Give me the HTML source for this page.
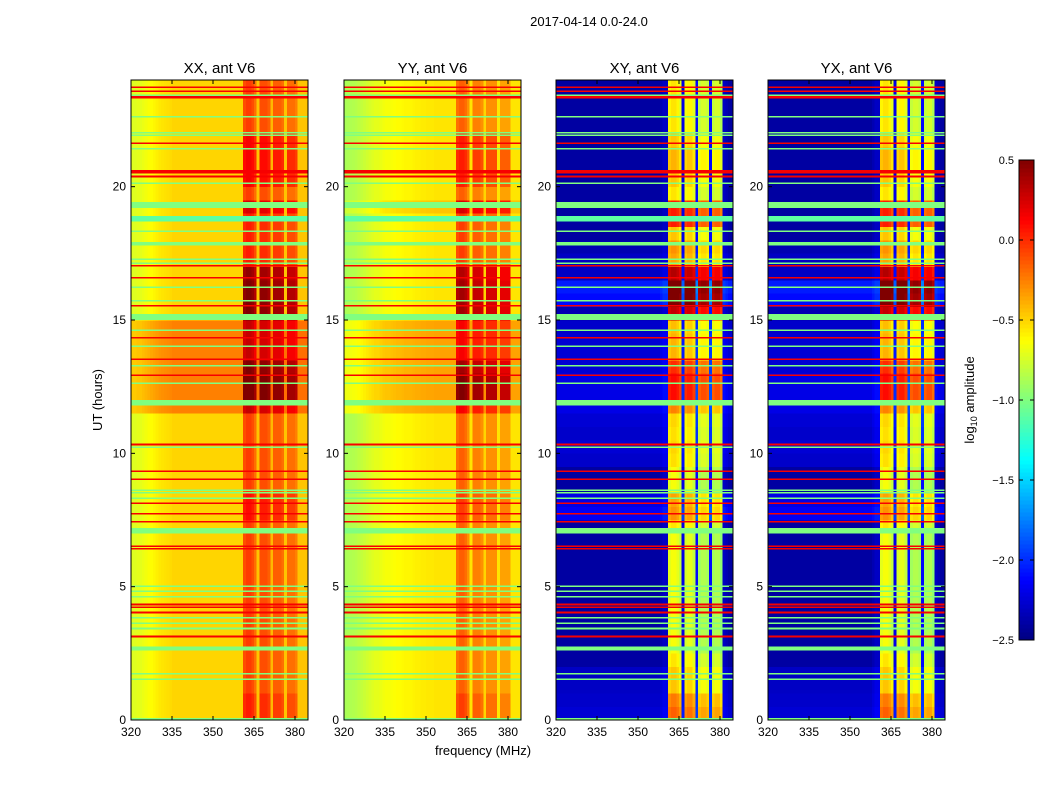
<!DOCTYPE html>
<html><head><meta charset="utf-8"><style>
body{margin:0;background:#fff;}
svg{display:block;font-family:"Liberation Sans",sans-serif;}
</style></head><body>
<svg id="fig" width="1050" height="800" viewBox="0 0 1050 800">
<rect width="1050" height="800" fill="#fff"/>
<text x="589" y="26" font-size="13" text-anchor="middle">2017-04-14 0.0-24.0</text>
<text x="483" y="755" font-size="13" text-anchor="middle">frequency (MHz)</text>
<text transform="translate(102,400) rotate(-90)" font-size="13" text-anchor="middle">UT (hours)</text>
<g id="panels"></g>
<g id="cbar"></g>
<text transform="translate(974,400) rotate(-90)" font-size="13" text-anchor="middle">log<tspan font-size="9" dy="3">10</tspan><tspan dy="-3"> amplitude</tspan></text>
</svg>
<script>
// ---- data ----
const panelTitles = ["XX, ant V6","YY, ant V6","XY, ant V6","YX, ant V6"];
const xTicks = [320,335,350,365,380];
const yTicks = [0,5,10,15,20];
const cbTicks = [0.5,0.0,-0.5,-1.0,-1.5,-2.0,-2.5];
const rfiCols = [361,362,363,364,365,367,368,369,370,372,373,374,375,377,378,379,380];
// frequency profiles, 1 MHz bins 320..384
const freqXX = [-0.72,-0.72,-0.7,-0.7,-0.68,-0.66,-0.64,-0.62,-0.6,-0.58,-0.56,-0.55,-0.54,-0.53,-0.52,
 -0.5,-0.5,-0.5,-0.5,-0.5,-0.5,-0.5,-0.5,-0.5,-0.5,-0.5,-0.5,-0.5,-0.5,-0.5,-0.5,-0.5,-0.5,-0.5,-0.5,-0.5,-0.5,-0.5,-0.5,-0.5,-0.5,
 -0.1,-0.05,-0.05,-0.1,-0.2,-0.45,-0.1,-0.1,-0.1,-0.15,-0.42,-0.15,-0.15,-0.15,-0.2,-0.45,-0.2,-0.2,-0.2,-0.25,-0.45,-0.45,-0.45,-0.45];
const freqYY = [-0.88,-0.87,-0.86,-0.85,-0.84,-0.82,-0.8,-0.78,-0.76,-0.74,-0.72,-0.7,-0.7,-0.68,-0.66,
 -0.65,-0.65,-0.64,-0.63,-0.62,-0.62,-0.61,-0.6,-0.6,-0.6,-0.59,-0.58,-0.58,-0.57,-0.57,-0.56,-0.56,-0.56,-0.55,-0.55,-0.55,-0.55,-0.55,-0.55,-0.55,-0.55,
 -0.2,-0.15,-0.15,-0.2,-0.3,-0.55,-0.25,-0.25,-0.25,-0.3,-0.5,-0.3,-0.3,-0.3,-0.3,-0.55,-0.35,-0.35,-0.35,-0.35,-0.55,-0.55,-0.55,-0.55];
const freqXY = [-2.4,-2.4,-2.4,-2.4,-2.4,-2.4,-2.4,-2.4,-2.4,-2.4,-2.4,-2.4,-2.4,-2.4,-2.4,
 -2.4,-2.4,-2.4,-2.4,-2.4,-2.4,-2.4,-2.4,-2.4,-2.4,-2.4,-2.4,-2.4,-2.4,-2.4,-2.4,-2.4,-2.4,-2.4,-2.4,-2.4,-2.4,-2.4,-2.35,-2.3,-2.3,
 -0.7,-0.65,-0.65,-0.7,-0.8,-2.2,-0.75,-0.7,-0.7,-0.8,-2.1,-0.9,-0.85,-0.85,-0.9,-2.1,-0.9,-0.85,-0.85,-0.95,-2.3,-2.35,-2.4,-2.4];
// time profiles, half-hour bins 0..24
const timeXX = [0,0,0,0,0,0,0,0,0,0,0,0,0,0,0,0,0,0,0,0,0,0,0,0.25,0.25,0.25,0.25,0.25,0.25,0.25,0,0,0,0,0,0,0,0,0,0,0,0,0,0,0,0,0,0];
const rfiXX = [0.1,0.1,0,0,0,0,0,0,0,0,0,0,0,0,0,0.15,0.15,0,0,0,0,0,0,0.1,0.35,0.35,0.3,0.1,0.1,0.1,0.55,0.55,0.55,0.5,0.1,0.1,0.1,0.1,0.3,0,0.2,0.2,0.2,0.2,0,0,0,0];
const timeYY = [0,0,0,0,0,0,0,0,0,0,0,0,0,0,0,0,0,0,0,0,0,0,0,0.2,0.2,0.2,0.2,0.2,0.2,0.2,0,0,0,0,0,0,0,0,0.1,0,0,0,0,0,0,0,0,0];
const rfiYY = [0.1,0.1,0,0,0,0,0,0,0,0,0,0,0,0,0,0.1,0.1,0,0,0,0,0,0,0.1,0.45,0.45,0.35,0.1,0.1,0.1,0.55,0.55,0.55,0.5,0.1,0.1,0.1,0.1,0.3,0,0.2,0.2,0.2,0.2,0,0,0,0];
const timeXY = [0.15,0.12,0.1,0.1,0,0,0,0,0,0,0,0,0,0,0,0.25,0.2,0,0,0.12,0.15,0.12,0.15,0.2,0.2,0.2,0.15,0.15,0.15,0.12,0.05,0.3,0.35,0.1,0.1,0.05,0,0,0,0,0,0,0,0,0,0,0,0];
const rfiXY = [0.35,0.3,0.1,0.1,0.1,0,0,0,0,0,0,0,0,0,0.1,0.1,0.1,0,0,0,0,0,0,0.2,0.55,0.55,0.5,0.1,0.1,0.1,0.9,0.95,0.95,0.9,0.2,0.3,0.2,0.7,0.7,0.1,0.2,0.25,0.25,0.2,0.1,0.1,0.1,0.1];
// flagged rows: start hour, height (hours), value
const flagHours = [0,1.5,1.7,2.6,3.1,3.4,3.6,3.8,4.0,4.2,4.3,4.6,4.8,5.0,6.4,6.5,7.0,7.4,7.7,8.1,8.3,8.5,8.6,9.0,9.3,10.2,10.3,11.8,12.6,12.9,13.27,13.5,14.0,14.3,14.6,15.0,15.5,15.7,16.2,16.55,17.0,17.1,17.25,17.8,18.3,18.7,19.2,20.1,20.35,20.5,21.4,21.6,21.9,22.0,22.6,23.3,23.4,23.55,23.7];
const flagSize  = [0.08,0.06,0.06,0.15,0.06,0.06,0.06,0.06,0.06,0.06,0.06,0.05,0.05,0.05,0.05,0.05,0.2,0.06,0.06,0.06,0.05,0.05,0.05,0.05,0.06,0.05,0.06,0.2,0.05,0.06,0.05,0.06,0.05,0.06,0.05,0.22,0.06,0.05,0.05,0.06,0.06,0.06,0.05,0.12,0.05,0.2,0.22,0.05,0.06,0.12,0.05,0.06,0.05,0.05,0.05,0.1,0.05,0.06,0.05];
const flagVals  = [-1,-1,-1,-1,0.15,-1,-1,-1,0.15,0.15,0.15,-1,-1,-1,0.15,0.15,-1,0.15,0.15,0.15,-1,-1,-1,0.15,0.15,-1,0.15,-1,-1,0.15,-1,0.15,-1,0.15,-1,-1,0.15,-1,-1,0.15,0.15,-1,-1,-1,-1,-1.1,-1,-1,0.15,0.15,-1,0.15,-1,-1,-1,0.15,-1,0.15,0.15];

const panelFreq = [freqXX,freqYY,freqXY,freqXY];
const panelTime = [timeXX,timeYY,timeXY,timeXY];
const panelRfi  = [rfiXX,rfiYY,rfiXY,rfiXY];

// ---- layout ----
const panelX = [131,344,556,768];
const PW = 177, PT = 80, PB = 720;
const F0 = 320, F1 = 320 + PW/(41/15);
const H1 = 24;
const NS = "http://www.w3.org/2000/svg";
function jet(v){
  let t=(v+2.5)/3; t=Math.max(0,Math.min(1,t));
  const c=x=>Math.round(255*Math.max(0,Math.min(1,x)));
  return `rgb(${c(1.5-Math.abs(4*t-3))},${c(1.5-Math.abs(4*t-2))},${c(1.5-Math.abs(4*t-1))})`;
}
function mk(tag,attrs,parent){const e=document.createElementNS(NS,tag);for(const k in attrs)e.setAttribute(k,attrs[k]);parent.appendChild(e);return e;}
const panels=document.getElementById('panels');
panelTitles.forEach((title,p)=>{
  const x0=panelX[p];
  const xs=f=>x0+(f-F0)/(F1-F0)*PW;
  const ys=h=>PB-(h/H1)*(PB-PT);
  const g=mk('g',{'shape-rendering':'crispEdges'},panels);
  
  
  const fr=panelFreq[p], tm=panelTime[p], rf=panelRfi[p];
  for(let i=0;i<fr.length;i++){
    const f=F0+i;
    const isR=rfiCols.indexOf(f)>=0;
    for(let j=0;j<tm.length;j++){
      const h=j*0.5;
      let v=fr[i]+tm[j]+(isR?rf[j]:0);
      const x1=xs(f), x2=Math.min(xs(f+1),x0+PW);
      const r=mk('rect',{x:x1,y:ys(h+0.5),width:x2-x1+0.4,height:ys(h)-ys(h+0.5)+0.4,fill:jet(v)},g);
      
      
    }
  }
  for(let k=0;k<flagHours.length;k++){
    const h=flagHours[k], sz=flagSize[k];
    const r=mk('rect',{x:x0,y:ys(h+sz),width:PW,height:Math.max(1.5,ys(h)-ys(h+sz)),fill:jet(flagVals[k])},g);
    
    
  }
  const fr2=mk('rect',{x:x0,y:PT,width:PW,height:PB-PT,fill:'none',stroke:'#000','stroke-width':1},panels);
  
  
  const t=mk('text',{x:x0+PW/2,y:73,'font-size':15,'text-anchor':'middle'},panels);
  t.textContent=title;
  
  
  xTicks.forEach(v=>{
    const x=xs(v);
    mk('line',{x1:x,x2:x,y1:PB,y2:PB-4,stroke:'#000'},panels);
    mk('line',{x1:x,x2:x,y1:PT,y2:PT+4,stroke:'#000'},panels);
    const l=mk('text',{x:x,y:PB+16,'font-size':12,'text-anchor':'middle'},panels);
    l.textContent=v;
    
    
  });
  yTicks.forEach(v=>{
    const y=ys(v);
    mk('line',{x1:x0,x2:x0+4,y1:y,y2:y,stroke:'#000'},panels);
    mk('line',{x1:x0+PW,x2:x0+PW-4,y1:y,y2:y,stroke:'#000'},panels);
    const l=mk('text',{x:x0-5,y:y+4,'font-size':12,'text-anchor':'end'},panels);
    l.textContent=v;
    
    
  });
});
// colorbar
const cb=document.getElementById('cbar');
const CBX=1019, CBW=15, CBT=160, CBB=640;
for(let i=0;i<120;i++){
  const v=-2.5+3*(i+0.5)/120;
  const y=CBB-(i+1)*(CBB-CBT)/120;
  mk('rect',{x:CBX,y:y,width:CBW,height:(CBB-CBT)/120+0.5,fill:jet(v)},cb);
}
mk('rect',{x:CBX,y:CBT,width:CBW,height:CBB-CBT,fill:'none',stroke:'#000'},cb);
cbTicks.forEach(v=>{
  const y=CBB-(v+2.5)/3*(CBB-CBT);
  mk('line',{x1:CBX,x2:CBX+4,y1:y,y2:y,stroke:'#000'},cb);
  mk('line',{x1:CBX+CBW-4,x2:CBX+CBW,y1:y,y2:y,stroke:'#000'},cb);
  const l=mk('text',{x:CBX-5,y:y+4,'font-size':11,'text-anchor':'end'},cb);
  l.textContent=(v<0?'\u2212':'')+Math.abs(v).toFixed(1);
  
  
});
</script>
</body></html>
